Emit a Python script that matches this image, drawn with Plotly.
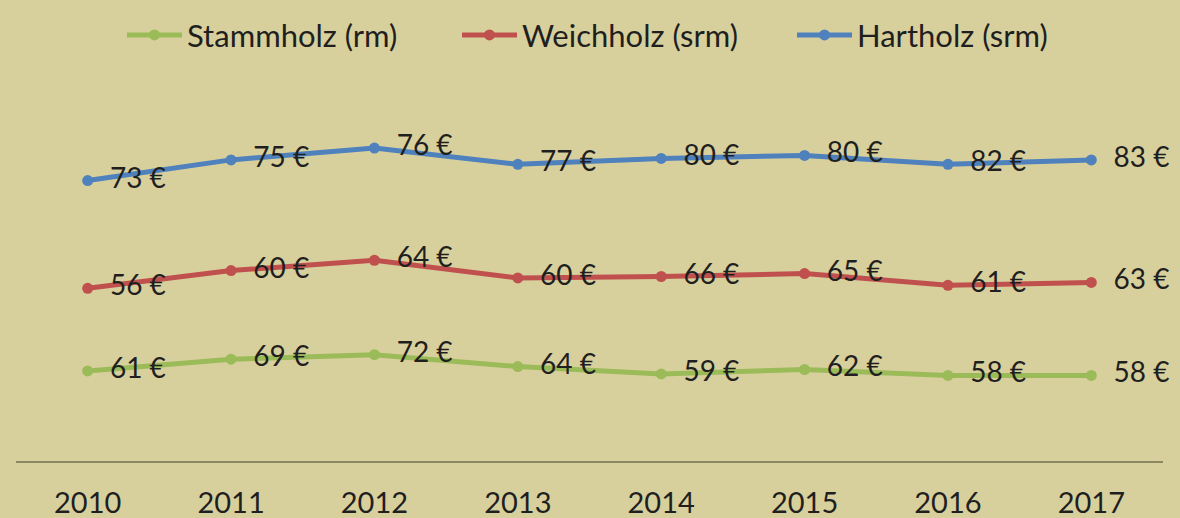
import plotly.graph_objects as go

years = ["2010", "2011", "2012", "2013", "2014", "2015", "2016", "2017"]
stammholz = [61, 69, 72, 64, 59, 62, 58, 58]
weichholz = [56, 60, 64, 60, 66, 65, 61, 63]
hartholz = [73, 75, 76, 77, 80, 80, 82, 83]

series = [
    ("Stammholz (rm)", stammholz, "#9BBB59"),
    ("Weichholz (srm)", weichholz, "#C0504D"),
    ("Hartholz (srm)", hartholz, "#4F81BD"),
]

BG = "#D8D09C"
FONT = "Lato"
TXT = "#1f1f1f"

fig = go.Figure()
for name, vals, col in series:
    fig.add_trace(go.Scatter(
        x=years, y=vals, name=name,
        stackgroup="one", fill="none",
        mode="lines+markers+text",
        line=dict(color=col, width=5),
        marker=dict(color=col, size=11),
        text=["\u00a0\u00a0" + f"{v} €" for v in vals],
        textposition="middle right",
        textfont=dict(family=FONT, size=28, color=TXT),
        cliponaxis=False,
    ))

fig.update_layout(
    width=1180, height=518,
    paper_bgcolor=BG, plot_bgcolor=BG,
    margin=dict(l=16, r=17, t=92, b=57, autoexpand=False),
    font=dict(family=FONT, size=28, color=TXT),
    showlegend=True,
    legend=dict(orientation="h", xref="container", x=122 / 1180, xanchor="left",
                yref="container", y=0.984, yanchor="top",
                font=dict(family=FONT, size=31, color=TXT),
                bgcolor="rgba(0,0,0,0)", itemwidth=55, traceorder="normal",
                entrywidth=265, entrywidthmode="pixels"),
    xaxis=dict(type="category", range=[-0.5, 7.5], showgrid=False, zeroline=False,
               showline=True, linecolor="#8C8962", linewidth=2, automargin=False,
               ticks="outside", ticklen=15, tickcolor="rgba(0,0,0,0)",
               tickfont=dict(family=FONT, size=29, color=TXT)),
    yaxis=dict(range=[0, 250], showgrid=False, zeroline=False, showline=False,
               showticklabels=False, ticks="", automargin=False),
)

fig.write_html("out.html", config={"displayModeBar": False},
               post_script="document.body.style.margin='0';")
